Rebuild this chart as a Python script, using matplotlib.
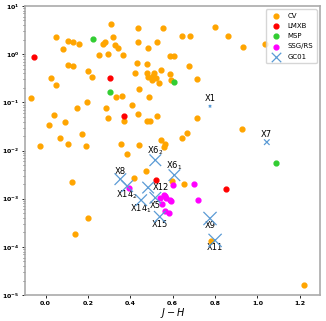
import numpy as np
import matplotlib
matplotlib.use("Agg")
import matplotlib.pyplot as plt

# ---- data ----
cv_x = [-0.067, 0.050, 0.080, 0.107, 0.130, 0.157, 0.107, 0.130, 0.025, 0.050,
        0.199, 0.217, 0.195, 0.148, 0.287, 0.310, 0.320, 0.273, 0.280, 0.329,
        0.341, 0.250, 0.295, 0.366, 0.333, 0.363, 0.435, 0.556, 0.798, 0.859,
        0.644, 0.680, 0.437, 0.528, 0.485, 0.586, 0.605, 0.432, 0.479, 0.675,
        0.423, 0.479, 0.510, 0.545, 0.485, 0.508, 0.522, 0.589, 0.504, 0.536,
        0.592, 0.713, 0.443, 0.489, 0.407, 0.930, 1.035, 0.715, 0.927, 0.642,
        0.666, 0.564, 0.558, 0.435, 0.369, 0.479, 0.492, 0.524, 0.545, 0.440,
        0.383, 0.357, 0.473, 0.416, 0.597, 0.655, 0.781, 1.221, 0.042, 0.014,
        0.091, 0.297, 0.170, 0.067, 0.107, 0.190, -0.025, 0.127, 0.199, 0.140]
cv_y = [0.123, 2.27, 1.28, 1.92, 1.77, 1.63, 0.589, 0.58, 0.32, 0.226,
        0.448, 0.336, 0.104, 0.0765, 0.078, 4.17, 2.27, 1.63, 1.77, 1.53,
        1.35, 0.96, 1.01, 0.96, 0.132, 0.136, 3.50, 3.45, 3.61, 2.39,
        2.39, 2.35, 1.77, 1.79, 1.37, 0.935, 0.935, 0.657, 0.626, 0.58,
        0.415, 0.40, 0.415, 0.47, 0.336, 0.348, 0.327, 0.383, 0.288, 0.249,
        0.288, 0.306, 0.193, 0.126, 0.090, 1.39, 1.60, 0.0468, 0.0273, 0.0186,
        0.0236, 0.0135, 0.0119, 0.0586, 0.0411, 0.0419, 0.0411, 0.0515, 0.0166, 0.0133,
        0.00826, 0.0137, 0.00372, 0.0027, 0.00231, 0.0020, 0.000131, 1.6e-5, 0.0548, 0.0346,
        0.0387, 0.0468, 0.0218, 0.0183, 0.0137, 0.0127, 0.0125, 0.0022, 0.0004, 0.000186]

lmxb_x = [-0.055, 0.306, 0.372, 0.522, 0.852]
lmxb_y = [0.86, 0.327, 0.0532, 0.00242, 0.00155]

msp_x = [0.222, 0.306, 0.605, 1.087]
msp_y = [2.11, 0.162, 0.27, 0.00553]

ssg_x = [0.393, 0.603, 0.701, 0.720, 0.594, 0.564, 0.557, 0.542, 0.566, 0.589, 0.550, 0.562, 0.584]
ssg_y = [0.00163, 0.00193, 0.00197, 0.000944, 0.000888, 0.00112, 0.00118, 0.00101, 0.00101,
         0.00093, 0.00079, 0.00055, 0.000508]

gc_names = ["X1", "X7", "X6$_2$", "X6$_1$", "X8", "X14$_2$", "X12", "X14$_1$", "X5", "X15", "X9", "X11"]
gc_x = [0.776, 1.044, 0.518, 0.608, 0.353, 0.385, 0.484, 0.451, 0.518, 0.539, 0.776, 0.800]
gc_y = [0.083, 0.0149, 0.00629, 0.00307, 0.00254, 0.00182, 0.0017, 0.00093, 0.00104, 0.00042, 0.000388, 0.000136]
gc_size = [3, 16, 70, 70, 70, 70, 70, 70, 70, 70, 90, 90]
gc_label_pos = ["above", "above", "above", "above", "above", "below", "right", "below", "below", "below", "below", "below"]

# ---- figure ----
fig = plt.figure(figsize=(3.26, 3.21), dpi=100)
ax = fig.add_axes([25/326, 26/321, 295/326, 289/321])

ax.scatter(cv_x, cv_y, s=12, color="orange", label="CV", zorder=2)
ax.scatter(lmxb_x, lmxb_y, s=12, color="red", label="LMXB", zorder=3)
ax.scatter(msp_x, msp_y, s=12, color="limegreen", label="MSP", zorder=3)
ax.scatter(ssg_x, ssg_y, s=12, color="magenta", label="SSG/RS", zorder=3)
ax.scatter(gc_x, gc_y, s=gc_size, marker="x", color="#5b9bd5", linewidths=0.9,
           label="GC01", zorder=4)

for name, x, y, pos in zip(gc_names, gc_x, gc_y, gc_label_pos):
    if pos == "above":
        ax.annotate(name, (x, y), xytext=(0, 2), textcoords="offset points",
                    ha="center", va="bottom", fontsize=6)
    elif pos == "below":
        ax.annotate(name, (x, y), xytext=(0, -2), textcoords="offset points",
                    ha="center", va="top", fontsize=6)
    else:
        ax.annotate(name, (x, y), xytext=(3, 0), textcoords="offset points",
                    ha="left", va="center", fontsize=6)

ax.set_yscale("log")
ax.set_xlim(-0.097, 1.295)
ax.set_ylim(1e-5, 10)
ax.set_xticks([0.0, 0.2, 0.4, 0.6, 0.8, 1.0, 1.2])
ax.tick_params(labelsize=4.5, length=2, width=0.6, pad=2)
ax.tick_params(which="minor", length=1.2, width=0.4)
for lab in ax.get_xticklabels() + ax.get_yticklabels():
    lab.set_fontweight("bold")
ax.set_xlabel("$J - H$", fontsize=7, labelpad=0)

for s in ax.spines.values():
    s.set_color("#aaaaaa")
    s.set_linewidth(1.2)

leg = ax.legend(loc="upper right", fontsize=5, markerscale=1.0, borderpad=0.5,
                handletextpad=0.6, labelspacing=0.6, framealpha=0.8)

fig.savefig("out.png", dpi=100)
